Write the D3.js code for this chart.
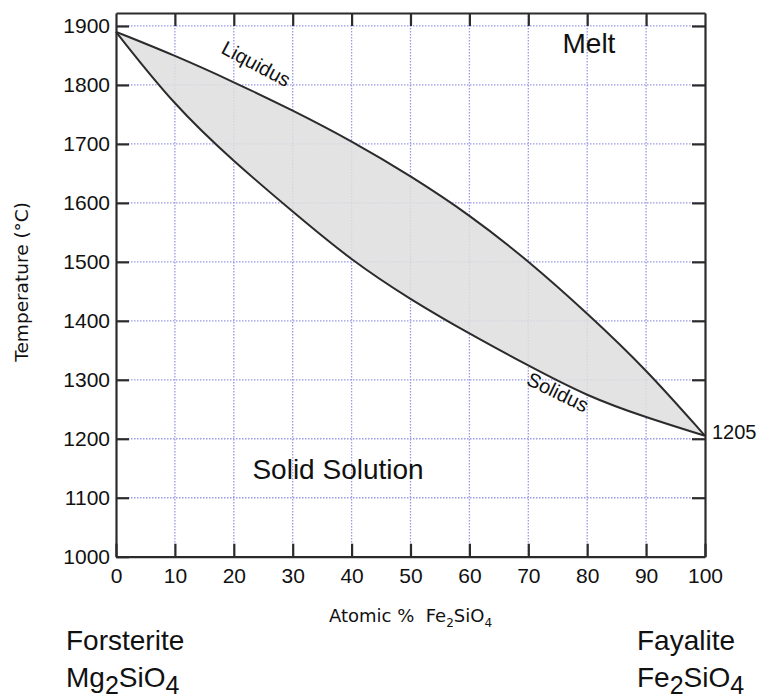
<!DOCTYPE html>
<html>
<head>
  <title>Forsterite - Fayalite Phase Diagram</title>
  <script src="https://d3js.org/d3.v7.min.js"></script>
  <style>
    body { margin: 0; background: #fff; }
    .tick text { font-family: "Liberation Sans", Arial, sans-serif; font-size: 21px; fill: #111; }
  </style>
</head>
<body>

<div id="chart"></div>

<script>
// Data
const composition = [0, 10, 20, 30, 40, 50, 60, 70, 80, 90, 100];   // atomic % Fe2SiO4
const liquidus = [1890, 1850, 1805, 1757, 1705, 1646, 1580, 1502, 1413, 1318, 1205];
const solidus  = [1890, 1764, 1670, 1585, 1502, 1436, 1378, 1324, 1272, 1236, 1205];

const xTicks = [0, 10, 20, 30, 40, 50, 60, 70, 80, 90, 100];
const yTicks = [1000, 1100, 1200, 1300, 1400, 1500, 1600, 1700, 1800, 1900];
const endLabel = "1205";

const points = composition.map((c, i) => ({ x: c, liq: liquidus[i], sol: solidus[i] }));

const width = 761;
const height = 699;

const svg = d3.select("#chart")
  .append("svg")
  .attr("width", width)
  .attr("height", height);

const xScale = d3.scaleLinear()
  .domain([0, 100])
  .range([116, 705]);

const yScale = d3.scaleLinear()
  .domain([1000, 1922])
  .range([556.7, 13]);

// grid (dotted)
const grid = svg.append("g");
grid.selectAll("line.vx")
  .data(xTicks.slice(1, -1))
  .enter().append("line")
  .attr("x1", d => xScale(d)).attr("x2", d => xScale(d))
  .attr("y1", yScale(1922)).attr("y2", yScale(1000))
  .attr("stroke", "#9a9ae6")
  .attr("stroke-width", 1.3)
  .attr("stroke-dasharray", "1.5,1.5");
grid.selectAll("line.hy")
  .data(yTicks.slice(1))
  .enter().append("line")
  .attr("x1", xScale(0)).attr("x2", xScale(100))
  .attr("y1", d => yScale(d)).attr("y2", d => yScale(d))
  .attr("stroke", "#9a9ae6")
  .attr("stroke-width", 1.3)
  .attr("stroke-dasharray", "1.5,1.5");

// two-phase field
const curve = d3.curveBasis;
const area = d3.area()
  .x(d => xScale(d.x))
  .y0(d => yScale(d.sol))
  .y1(d => yScale(d.liq))
  .curve(curve);

svg.append("path")
  .datum(points)
  .attr("fill", "#dedede")
  .attr("fill-opacity", 0.85)
  .attr("d", area);

const liqLine = d3.line().x(d => xScale(d.x)).y(d => yScale(d.liq)).curve(curve);
const solLine = d3.line().x(d => xScale(d.x)).y(d => yScale(d.sol)).curve(curve);

svg.append("path").datum(points)
  .attr("fill", "none").attr("stroke", "#2b2b2b").attr("stroke-width", 2)
  .attr("d", liqLine);
svg.append("path").datum(points)
  .attr("fill", "none").attr("stroke", "#2b2b2b").attr("stroke-width", 2)
  .attr("d", solLine);

// axes with inward ticks, plus top/right frame
const axisStyle = g => {
  g.select(".domain").attr("stroke", "#2b2b2b").attr("stroke-width", 2.2);
  g.selectAll(".tick line").attr("stroke", "#2b2b2b").attr("stroke-width", 2.2);
};

svg.append("g")
  .attr("transform", `translate(0,${yScale(1000)})`)
  .call(d3.axisBottom(xScale).tickValues(xTicks).tickSizeInner(-13).tickSizeOuter(0).tickPadding(11))
  .call(axisStyle);

svg.append("g")
  .attr("transform", `translate(${xScale(0)},0)`)
  .call(d3.axisLeft(yScale).tickValues(yTicks).tickFormat(d3.format("d"))
    .tickSizeInner(-13).tickSizeOuter(0).tickPadding(6))
  .call(axisStyle);

svg.append("g")
  .attr("transform", `translate(0,${yScale(1922)})`)
  .call(d3.axisTop(xScale).tickValues(xTicks.slice(1, -1)).tickSizeInner(-13).tickSizeOuter(0).tickFormat(""))
  .call(axisStyle);

svg.append("g")
  .attr("transform", `translate(${xScale(100)},0)`)
  .call(d3.axisRight(yScale).tickValues(yTicks.slice(1)).tickSizeInner(-13).tickSizeOuter(0).tickFormat(""))
  .call(axisStyle);

// curve and field labels
const helv = "'Liberation Sans', Arial, sans-serif";

svg.append("text")
  .attr("transform", `translate(${xScale(23.8)},${yScale(1836)}) rotate(28)`)
  .attr("text-anchor", "middle")
  .attr("dy", "0.35em")
  .attr("font-family", helv).attr("font-size", 20).attr("fill", "#111")
  .text("Liquidus");

svg.append("text")
  .attr("transform", `translate(${xScale(75)},${yScale(1279)}) rotate(26)`)
  .attr("text-anchor", "middle")
  .attr("dy", "0.35em")
  .attr("font-family", helv).attr("font-size", 20).attr("fill", "#111")
  .text("Solidus");

svg.append("text")
  .attr("x", xScale(80.3)).attr("y", yScale(1854))
  .attr("text-anchor", "middle")
  .attr("font-family", helv).attr("font-size", 28).attr("fill", "#111")
  .text("Melt");

svg.append("text")
  .attr("x", xScale(37.7)).attr("y", yScale(1131))
  .attr("text-anchor", "middle")
  .attr("font-family", helv).attr("font-size", 28).attr("fill", "#111")
  .text("Solid Solution");

svg.append("text")
  .attr("x", xScale(100) + 7).attr("y", yScale(1212))
  .attr("dy", "0.35em")
  .attr("font-family", helv).attr("font-size", 20).attr("fill", "#111")
  .text(endLabel);

// axis titles
svg.append("text")
  .attr("transform", `translate(22,${(yScale(1000) + yScale(1922)) / 2 - 3}) rotate(-90)`)
  .attr("text-anchor", "middle")
  .attr("dy", "0.35em")
  .attr("font-family", "'DejaVu Sans', sans-serif").attr("font-size", 18.5).attr("fill", "#111")
  .text("Temperature (°C)");

const xt = svg.append("text")
  .attr("x", xScale(50)).attr("y", 622)
  .attr("text-anchor", "middle")
  .attr("font-family", "'DejaVu Sans', sans-serif").attr("font-size", 18).attr("fill", "#111");
xt.append("tspan").text("Atomic %\u00a0 Fe");
xt.append("tspan").attr("dy", 5).attr("font-size", 12).text("2");
xt.append("tspan").attr("dy", -5).text("SiO");
xt.append("tspan").attr("dy", 5).attr("font-size", 12).text("4");

// end-member names
const endMember = (x, y, name, el) => {
  svg.append("text")
    .attr("x", x).attr("y", y)
    .attr("font-family", helv).attr("font-size", 28).attr("fill", "#111")
    .text(name);
  const f = svg.append("text")
    .attr("x", x).attr("y", y + 37)
    .attr("font-family", helv).attr("font-size", 28).attr("fill", "#111");
  f.append("tspan").text(el);
  f.append("tspan").attr("dy", 7).attr("font-size", 25).text("2");
  f.append("tspan").attr("dy", -7).text("SiO");
  f.append("tspan").attr("dy", 7).attr("font-size", 25).text("4");
};
endMember(66, 650, "Forsterite", "Mg");
endMember(637, 650, "Fayalite", "Fe");
</script>

</body>
</html>
